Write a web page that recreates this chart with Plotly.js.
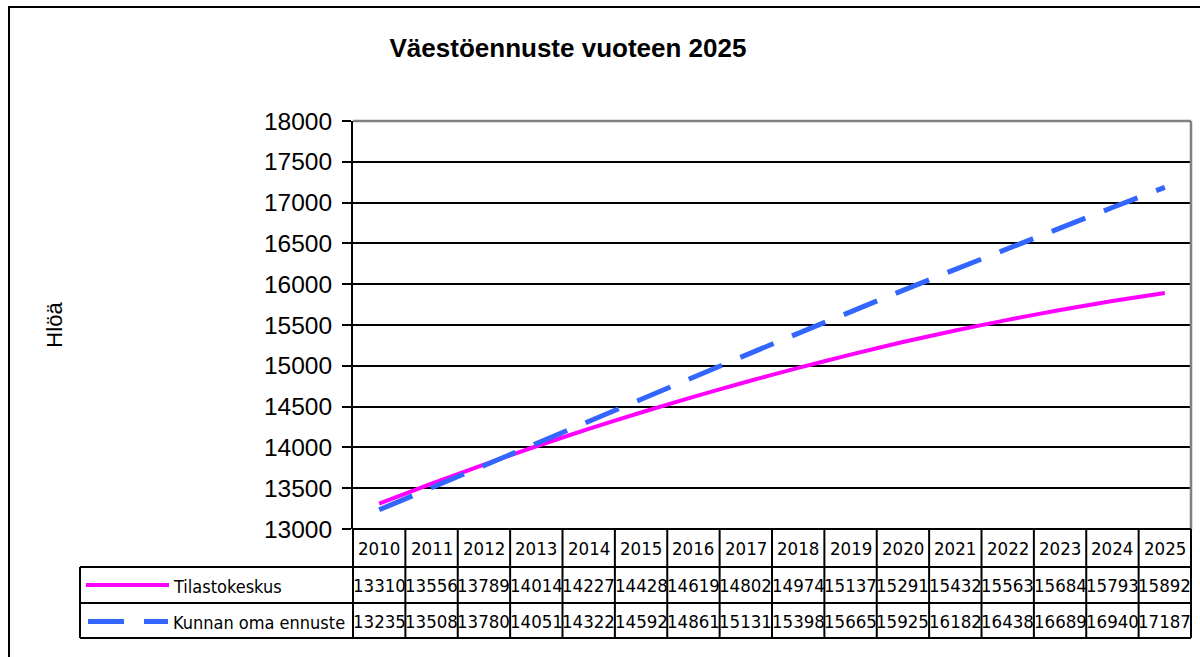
<!DOCTYPE html>
<html>
<head>
<meta charset="utf-8">
<script src="https://cdn.plot.ly/plotly-3.0.1.min.js"></script>
<style>html,body{margin:0;padding:0;background:#fff;}#chart{width:1200px;height:657px;}</style>
</head>
<body>
<div id="chart"></div>
<script>
// ---- data ----
const years = ["2010","2011","2012","2013","2014","2015","2016","2017","2018","2019","2020","2021","2022","2023","2024","2025"];
const tilastokeskus = [13310,13556,13789,14014,14227,14428,14619,14802,14974,15137,15291,15432,15563,15684,15793,15892];
const kunnanEnnuste = [13235,13508,13780,14051,14322,14592,14861,15131,15398,15665,15925,16182,16438,16689,16940,17187];
const seriesNames = ["Tilastokeskus", "Kunnan oma ennuste"];
const chartTitle = "Väestöennuste vuoteen 2025";
const yTitle = "Hlöä";

// ---- layout geometry (pixels) ----
const W = 1200, H = 657;
const L = 353, R = 1191, T = 121, B = 529;
const pw = R - L, ph = B - T;
const px = v => (v - L) / pw;        // pixel x -> paper
const py = v => (B - v) / ph;        // pixel y -> paper
const rowTop = 529, row1 = 567, row2 = 603, rowEnd = 638, legLeft = 80;
const narrow = '"DejaVu Sans Condensed", "Liberation Sans Narrow", sans-serif';
const arial = '"Liberation Sans", Arial, sans-serif';
const blue = 'rgb(51,102,255)', magenta = '#FF00FF';

const traces = [
  {x: years, y: tilastokeskus, name: seriesNames[0], type: 'scatter', mode: 'lines',
   line: {color: magenta, width: 4, shape: 'spline', smoothing: 0.6}},
  {x: years, y: kunnanEnnuste, name: seriesNames[1], type: 'scatter', mode: 'lines',
   line: {color: blue, width: 5, dash: '36px,20px'}}
];

const shapes = [];
const annotations = [];
const blk = {color: '#000', width: 2};

// outer frame
shapes.push({type: 'rect', xref: 'paper', yref: 'paper', x0: px(9), x1: px(1400), y0: py(800), y1: py(7),
  line: blk, layer: 'below'});
// plot area gray border (top + right)
shapes.push({type: 'line', xref: 'paper', yref: 'paper', x0: 0, x1: 1, y0: 1, y1: 1, line: {color: '#808080', width: 2.5}});
shapes.push({type: 'line', xref: 'paper', yref: 'paper', x0: 1, x1: 1, y0: 0, y1: 1, line: {color: '#808080', width: 2.5}});

// table horizontal lines
shapes.push({type: 'line', xref: 'paper', yref: 'paper', x0: 0, x1: 1, y0: py(rowTop), y1: py(rowTop), line: blk});
[row1, row2, rowEnd].forEach(r => shapes.push({type: 'line', xref: 'paper', yref: 'paper',
  x0: px(legLeft), x1: 1, y0: py(r), y1: py(r), line: blk}));
// legend box left edge
shapes.push({type: 'line', xref: 'paper', yref: 'paper', x0: px(legLeft), x1: px(legLeft), y0: py(row1), y1: py(rowEnd), line: blk});
// column separators
for (let i = 0; i <= years.length; i++) {
  shapes.push({type: 'line', xref: 'paper', yref: 'paper', x0: i / years.length, x1: i / years.length,
    y0: py(rowTop), y1: py(rowEnd), line: blk});
}
// legend line samples
shapes.push({type: 'line', xref: 'paper', yref: 'paper', x0: px(86), x1: px(169), y0: py(585), y1: py(585),
  line: {color: magenta, width: 4}});
shapes.push({type: 'line', xref: 'paper', yref: 'paper', x0: px(88), x1: px(168), y0: py(621.5), y1: py(621.5),
  line: {color: blue, width: 5, dash: '36px,20px'}});

// table text (x = category index on the category axis)
years.forEach((yr, i) => {
  annotations.push({x: i, xref: 'x', y: py(548), yref: 'paper', text: yr, showarrow: false,
    xanchor: 'center', yanchor: 'middle', font: {family: narrow, size: 18.5, color: '#000'}});
  annotations.push({x: i, xref: 'x', y: py(585.5), yref: 'paper', text: String(tilastokeskus[i]), showarrow: false,
    xanchor: 'center', yanchor: 'middle', font: {family: narrow, size: 18.5, color: '#000'}});
  annotations.push({x: i, xref: 'x', y: py(621.5), yref: 'paper', text: String(kunnanEnnuste[i]), showarrow: false,
    xanchor: 'center', yanchor: 'middle', font: {family: narrow, size: 18.5, color: '#000'}});
});
annotations.push({x: px(171), xref: 'paper', y: py(586), yref: 'paper', text: seriesNames[0], showarrow: false,
  xanchor: 'left', yanchor: 'middle', font: {family: narrow, size: 18, color: '#000'}});
annotations.push({x: px(171), xref: 'paper', y: py(622), yref: 'paper', text: seriesNames[1], showarrow: false,
  xanchor: 'left', yanchor: 'middle', font: {family: narrow, size: 18, color: '#000'}});

const layout = {
  width: W, height: H,
  margin: {l: L, r: W - R, t: T, b: H - B, pad: 0},
  paper_bgcolor: '#fff', plot_bgcolor: '#fff',
  showlegend: false,
  title: {text: chartTitle, x: 568 / W, xanchor: 'center', xref: 'container',
    y: 1 - 48 / H, yanchor: 'middle', yref: 'container',
    font: {family: arial, size: 26, color: '#000', weight: 'bold'}},
  xaxis: {type: 'category', range: [-0.5, years.length - 0.5], showticklabels: false, ticks: '',
    showgrid: false, zeroline: false, showline: false, fixedrange: true},
  yaxis: {range: [13000, 18000], dtick: 500, tick0: 13000, tickformat: 'd', showgrid: true, gridcolor: '#000', gridwidth: 2,
    zeroline: false, showline: true, linecolor: '#000', linewidth: 2,
    ticks: 'outside', ticklen: 9, tickwidth: 2, tickcolor: '#000', ticklabelstandoff: 5,
    tickfont: {family: arial, size: 24.5, color: '#000'},
    title: {text: yTitle, standoff: 195, font: {family: arial, size: 22, color: '#000'}},
    automargin: false, fixedrange: true},
  shapes: shapes,
  annotations: annotations
};

Plotly.newPlot('chart', traces, layout, {staticPlot: true, displayModeBar: false});
</script>
</body>
</html>
